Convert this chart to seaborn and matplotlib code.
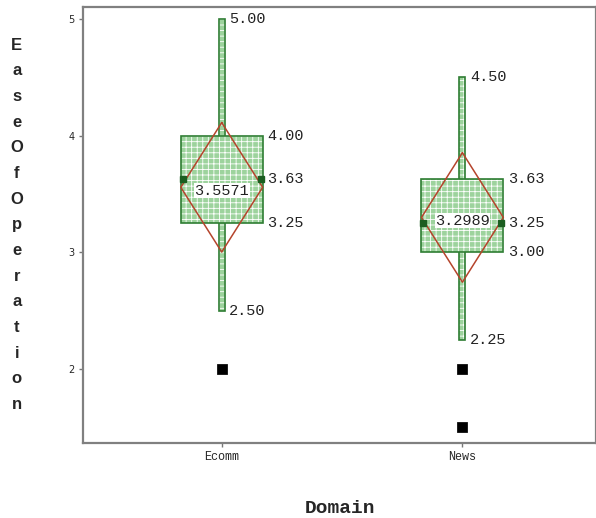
import numpy as np
import pandas as pd
import matplotlib
matplotlib.use("Agg")
import matplotlib.pyplot as plt
import matplotlib.patches as mpatches
import seaborn as sns

# summary stats
domains = ["Ecomm", "News"]
mins = [2.50, 2.25]
q1s = [3.25, 3.00]
medians = [3.63, 3.25]
q3s = [4.00, 3.63]
maxs = [5.00, 4.50]
means = [3.5571, 3.2989]
ci_half = [0.555, 0.555]
outlier_domain = ["Ecomm", "News", "News"]
outlier_value = [2.0, 2.0, 1.5]

sns.set_style("white")
plt.rcParams["hatch.linewidth"] = 0.6
mono = "Liberation Mono"

fig = plt.figure(figsize=(5.96, 5.18), dpi=100)
ax = fig.add_axes([0.139, 0.145, 0.861, 0.8415])

green = "#2e7d32"
fill = "#9dd39d"
box_hw = 0.17
wh_hw = 0.0125


def patterned_rect(x0, y0, w, h, z):
    # green fill with white dot pattern, then a green outline on top
    ax.add_patch(mpatches.Rectangle((x0, y0), w, h, facecolor=fill, edgecolor="white",
                                    linewidth=0, hatch="+++", zorder=z))
    ax.add_patch(mpatches.Rectangle((x0, y0), w, h, facecolor="none", edgecolor=green,
                                    linewidth=1.2, zorder=z))


for i, d in enumerate(domains):
    patterned_rect(i - wh_hw, mins[i], 2 * wh_hw, maxs[i] - mins[i], 2)
    patterned_rect(i - box_hw, q1s[i], 2 * box_hw, q3s[i] - q1s[i], 3)
    # median marks
    ax.plot([i - box_hw + 0.008, i + box_hw - 0.008], [medians[i]] * 2, ls="none", marker="s",
            ms=4.5, color="#1b5e20", zorder=5)
    # mean diamond
    m, h = means[i], ci_half[i]
    ax.plot([i, i + box_hw, i, i - box_hw, i], [m + h, m, m - h, m, m + h],
            color="#b5442c", lw=1.1, zorder=4)
    ax.text(i, m - 0.03, f"{means[i]:.4f}", ha="center", va="center", fontsize=11,
            family=mono, zorder=6, color="#222222",
            bbox=dict(facecolor="white", edgecolor="none", pad=0.3))
    # value labels
    for v in [maxs[i], mins[i]]:
        ax.text(i + wh_hw + 0.018, v, f"{v:.2f}", ha="left", va="center",
                fontsize=11, family=mono, color="#222222")
    for v in [q3s[i], medians[i], q1s[i]]:
        ax.text(i + box_hw + 0.018, v, f"{v:.2f}", ha="left", va="center",
                fontsize=11, family=mono, color="#222222")

out = pd.DataFrame({"Domain": outlier_domain, "EaseOfOperation": outlier_value})
out["x"] = out["Domain"].map({d: i for i, d in enumerate(domains)})
sns.scatterplot(data=out, x="x", y="EaseOfOperation", marker="s", s=45,
                color="black", edgecolor="black", ax=ax, zorder=6, legend=False)

ax.set_xlim(-0.577, 1.555)
ax.set_ylim(1.366, 5.103)
ax.set_xticks(range(len(domains)))
ax.set_xticklabels(domains, family=mono, fontsize=8.5)
ax.set_yticks([2, 3, 4, 5])
ax.set_yticklabels(["2", "3", "4", "5"], fontsize=7)
ax.tick_params(axis="both", length=3, width=1, color="#777777", pad=3, bottom=True, left=True)
for s in ax.spines.values():
    s.set_color("#808080")
    s.set_linewidth(1.6)
ax.set_xlabel("")
ax.set_ylabel("")

fig.text(0.57, 0.019, "Domain", ha="center", va="center", fontsize=14,
         fontweight="bold", family=mono)
fig.text(0.028, 0.566, "\n".join("EaseOfOperation"), ha="center", va="center",
         fontsize=12, fontweight="bold", family="Liberation Sans", linespacing=1.89)

fig.savefig("out.png", dpi=100)
